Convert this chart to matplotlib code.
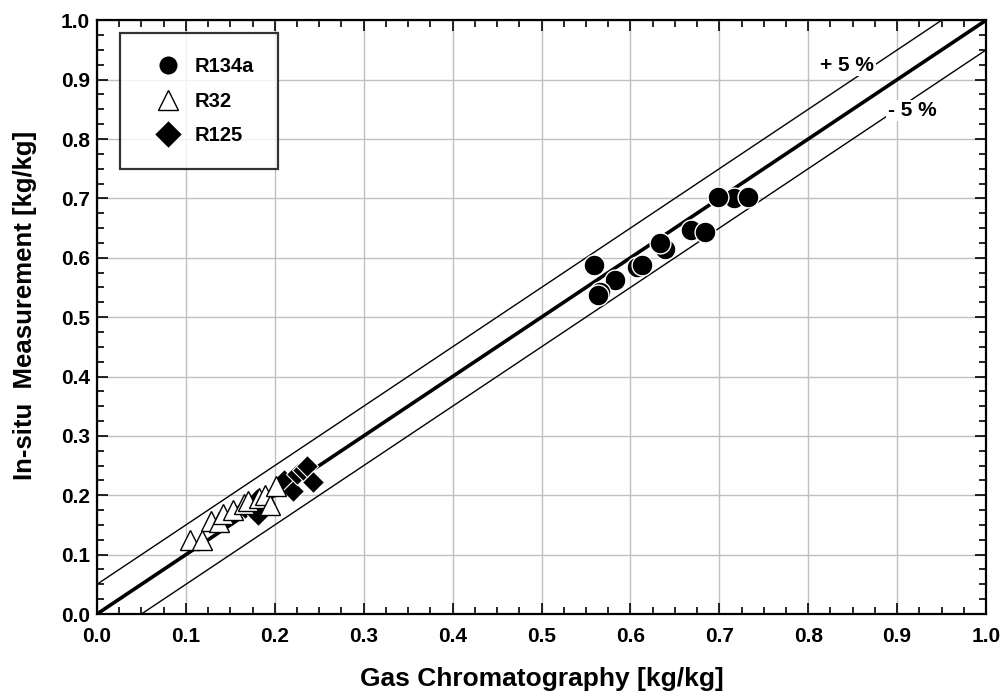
import numpy as np
import matplotlib
matplotlib.use("Agg")
import matplotlib.pyplot as plt
from matplotlib.ticker import MultipleLocator, FormatStrFormatter

plt.rcParams["font.family"] = ["Liberation Sans", "DejaVu Sans"]
plt.rcParams["font.weight"] = "bold"

# data
r134a_x = [0.559, 0.583, 0.566, 0.563, 0.607, 0.613, 0.639, 0.633, 0.668, 0.684, 0.716, 0.699, 0.732]
r134a_y = [0.588, 0.563, 0.542, 0.538, 0.585, 0.587, 0.615, 0.625, 0.647, 0.644, 0.701, 0.702, 0.702]

r32_x = [0.105, 0.118, 0.128, 0.137, 0.142, 0.153, 0.165, 0.170, 0.182, 0.189, 0.195, 0.201]
r32_y = [0.125, 0.124, 0.157, 0.155, 0.168, 0.176, 0.186, 0.190, 0.195, 0.201, 0.184, 0.215]

r125_x = [0.166, 0.172, 0.180, 0.181, 0.210, 0.220, 0.225, 0.232, 0.236, 0.243]
r125_y = [0.178, 0.186, 0.193, 0.167, 0.226, 0.207, 0.236, 0.243, 0.249, 0.222]

band = 0.05

fig = plt.figure(figsize=(10.04, 6.99), dpi=100)
ax = fig.add_axes([0.0966, 0.1216, 0.8855, 0.8494])

# reference lines
xx = np.array([0.0, 1.0])
ax.plot(xx, xx, color="black", lw=2.6, zorder=3)
ax.plot(xx, xx + band, color="black", lw=1.0, zorder=3)
ax.plot(xx, xx - band, color="black", lw=1.0, zorder=3)

ax.plot(r125_x, r125_y, "D", ms=11, mfc="black", mec="white", mew=0.8,
        ls="none", zorder=4, label="R125")
ax.plot(r32_x, r32_y, "^", ms=15, mfc="white", mec="black", mew=1.0,
        ls="none", zorder=5, label="R32")
ax.plot(r134a_x, r134a_y, "o", ms=15, mfc="black", mec="white", mew=1.0,
        ls="none", zorder=6, label="R134a")

ax.text(0.844, 0.924, "+ 5 %", fontsize=15, fontweight="bold", ha="center", va="center",
        bbox=dict(facecolor="white", edgecolor="none", pad=1), zorder=7)
ax.text(0.917, 0.848, "- 5 %", fontsize=15, fontweight="bold", ha="center", va="center",
        bbox=dict(facecolor="white", edgecolor="none", pad=1), zorder=7)

ax.set_xlim(0, 1)
ax.set_ylim(0, 1)
ax.xaxis.set_major_locator(MultipleLocator(0.1))
ax.yaxis.set_major_locator(MultipleLocator(0.1))
ax.xaxis.set_minor_locator(MultipleLocator(0.025))
ax.yaxis.set_minor_locator(MultipleLocator(0.025))
ax.xaxis.set_major_formatter(FormatStrFormatter("%.1f"))
ax.yaxis.set_major_formatter(FormatStrFormatter("%.1f"))
ax.tick_params(which="both", direction="in", top=True, right=True, width=1.2)
ax.tick_params(which="major", length=8, labelsize=15)
ax.tick_params(axis="x", which="major", pad=9)
ax.tick_params(axis="y", which="major", pad=5)
ax.tick_params(which="minor", length=5)
for lab in ax.get_xticklabels() + ax.get_yticklabels():
    lab.set_fontweight("bold")
ax.grid(True, which="major", color="#c0c0c0", lw=1.0, zorder=0)
ax.set_axisbelow(True)
for s in ax.spines.values():
    s.set_linewidth(1.6)

ax.set_xlabel("Gas Chromatography [kg/kg]", fontsize=19, fontweight="bold")
ax.set_ylabel("In-situ  Measurement [kg/kg]", fontsize=18.5, fontweight="bold")
ax.xaxis.set_label_coords(0.5, -0.09)
ax.yaxis.set_label_coords(-0.068, 0.52)

h, l = ax.get_legend_handles_labels()
leg = ax.legend(h[::-1], l[::-1], loc="upper left", bbox_to_anchor=(0.026, 0.978),
                prop={"weight": "bold", "size": 14.5}, frameon=True,
                fancybox=False, edgecolor="black", borderpad=1.2, labelspacing=0.75,
                handlelength=2.4, handletextpad=0.1, borderaxespad=0)
leg.get_frame().set_linewidth(1.6)
leg.set_zorder(10)
for lh in leg.legend_handles:
    lh.set_markersize(14)

fig.savefig("out.png", dpi=100)
